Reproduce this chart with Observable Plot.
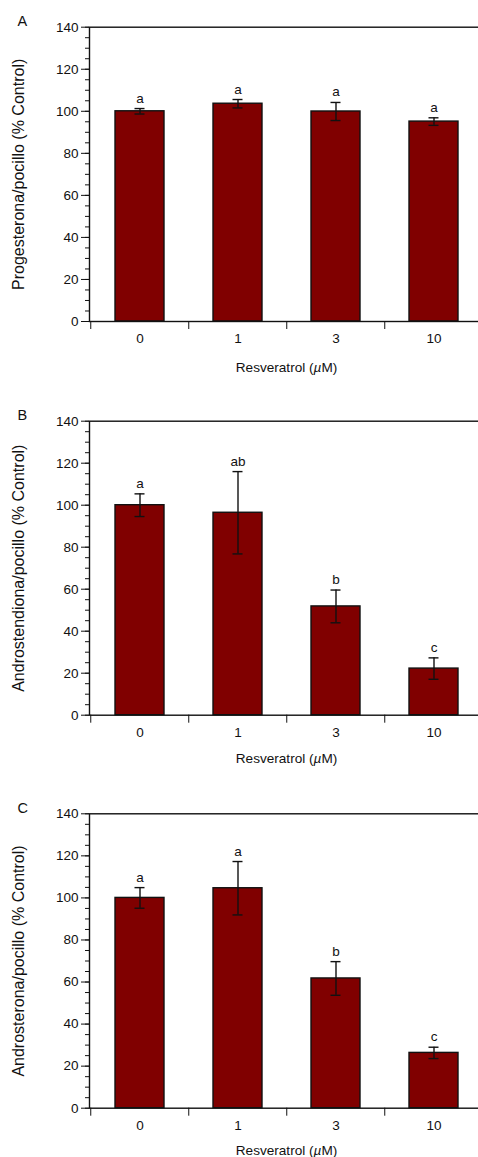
<!DOCTYPE html>
<html>
<head>
<meta charset="utf-8">
<script src="https://cdn.jsdelivr.net/npm/d3@7"></script>
<script src="https://cdn.jsdelivr.net/npm/@observablehq/plot@0.6"></script>
<style>
  html, body { margin: 0; padding: 0; background: #fff; }
  #chart svg { display: block; }
</style>
</head>
<body>
<div id="chart"></div>
<script>
// Resveratrol doses (µM)
const doses = ["0", "1", "3", "10"];

// A: progesterone per well, % of control
const progMean = [100.0, 103.6, 99.9, 95.1];
const progSem = [1.3, 2.0, 4.3, 1.8];
const progLetters = ["a", "a", "a", "a"];

// B: androstenedione per well, % of control
const andMean = [100.0, 96.4, 51.8, 22.2];
const andSem = [5.4, 19.6, 7.8, 5.1];
const andLetters = ["a", "ab", "b", "c"];

// C: androsterone per well, % of control
const astMean = [100.0, 104.6, 61.7, 26.3];
const astSem = [4.9, 12.7, 8.0, 2.7];
const astLetters = ["a", "a", "b", "c"];

const xLabel = "Resveratrol (µM)";
const font = "'Liberation Sans', Arial, Helvetica, sans-serif";
const ink = "#111";

function panel({letter, ylabel, mean, sem, letters, height, marginTop, marginBottom, xLabelOffset}) {
  const rows = doses.map((d, i) => ({
    dose: d, mean: mean[i], lo: mean[i] - sem[i], hi: mean[i] + sem[i], letter: letters[i]
  }));
  const width = 478, marginLeft = 89, marginRight = -5;
  const step = (width - marginRight - marginLeft) / doses.length;
  const svg = Plot.plot({
    width, height, marginLeft, marginRight, marginTop, marginBottom,
    style: {fontFamily: font, fontSize: "13px", color: ink, background: "#fff"},
    x: {domain: doses, paddingInner: 0.5, paddingOuter: 0.25},
    y: {domain: [0, 140]},
    marks: [
      Plot.barY(rows, {x: "dose", y: "mean", fill: "#800000", stroke: ink, strokeWidth: 1.4}),
      Plot.ruleX(rows, {x: "dose", y1: "lo", y2: "hi", stroke: ink, strokeWidth: 1.4}),
      Plot.tickY(rows, {x: "dose", y: "hi", stroke: ink, strokeWidth: 1.4, insetLeft: 19.5, insetRight: 19.5}),
      Plot.tickY(rows, {x: "dose", y: "lo", stroke: ink, strokeWidth: 1.4, insetLeft: 19.5, insetRight: 19.5}),
      Plot.text(rows, {x: "dose", y: "hi", text: "letter", dy: -6, lineAnchor: "bottom", fontSize: 13.5, fill: ink}),
      Plot.frame({stroke: ink, strokeWidth: 1.4}),
      // minor y ticks every 5
      Plot.axisY({ticks: d3.range(0, 141, 5), tickSize: 4, tickFormat: () => "", label: null, stroke: ink}),
      // major y ticks every 20
      Plot.axisY({ticks: d3.range(0, 141, 20), tickSize: 8, tickPadding: 3, stroke: ink, fontSize: 13.5,
        label: ylabel, labelArrow: "none", labelAnchor: "center", labelOffset: 77}),
      // dose labels
      Plot.axisX({tickSize: 0, tickPadding: 12, label: null, fontSize: 13.5}),
      Plot.axisX({tickSize: 0, text: null, label: xLabel, labelArrow: "none", labelAnchor: "center",
        labelOffset: xLabelOffset, fontSize: 13.6}),
      // ticks on the boundaries between dose groups
      Plot.axisX({tickSize: 8, text: null, label: null, dx: -step / 2, stroke: ink}),
      Plot.text([letter], {text: d => d, frameAnchor: "top-left", dx: -72, dy: -1,
        textAnchor: "start", lineAnchor: "bottom", fontSize: 14.5, fill: ink})
    ]
  });
  const texts = d3.select(svg).selectAll("text");
  // y label a little larger than the tick labels, without a direction arrow
  texts.filter(function() { return this.textContent.includes(ylabel); })
    .attr("font-size", 16)
    .text(ylabel);
  // italic mu in the dose unit
  texts.filter(function() { return this.textContent.includes(xLabel); })
    .each(function() {
      const t = d3.select(this);
      t.text(null);
      t.append("tspan").text("Resveratrol (");
      t.append("tspan").attr("font-style", "italic").text("µ");
      t.append("tspan").text("M)");
    });
  return svg;
}

const chart = document.getElementById("chart");
chart.append(panel({letter: "A", ylabel: "Progesterona/pocillo (% Control)", mean: progMean, sem: progSem,
  letters: progLetters, height: 385, marginTop: 26.7, marginBottom: 64, xLabelOffset: 50}));
chart.append(panel({letter: "B", ylabel: "Androstendiona/pocillo (% Control)", mean: andMean, sem: andSem,
  letters: andLetters, height: 387, marginTop: 35.7, marginBottom: 57.3, xLabelOffset: 47.6}));
chart.append(panel({letter: "C", ylabel: "Androsterona/pocillo (% Control)", mean: astMean, sem: astSem,
  letters: astLetters, height: 385, marginTop: 41.3, marginBottom: 49.3, xLabelOffset: 46.3}));
</script>
</body>
</html>
